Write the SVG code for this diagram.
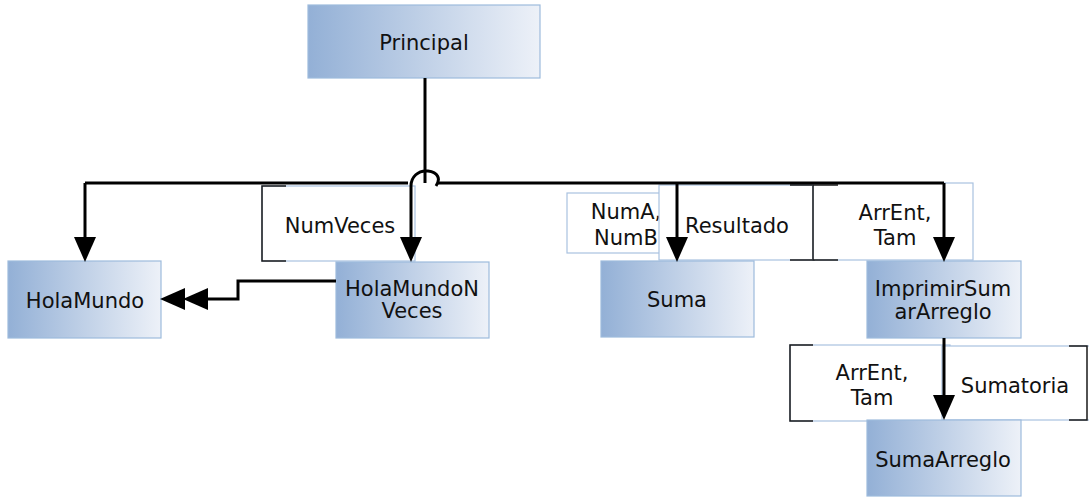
<svg xmlns="http://www.w3.org/2000/svg" width="1089" height="497" viewBox="0 0 1089 497">
<defs>
<linearGradient id="g" x1="0" y1="0" x2="1" y2="0">
<stop offset="0" stop-color="#93b0d6"/>
<stop offset="1" stop-color="#edf1f8"/>
</linearGradient>
<marker id="arr" viewBox="0 0 25 22" refX="20" refY="11" markerWidth="25" markerHeight="22" markerUnits="userSpaceOnUse" orient="auto">
<path d="M0,0 L25,11 L0,22 z" fill="#000"/>
</marker>
<style>
.node rect{fill:url(#g);stroke:#9dbbdc;stroke-width:1.2}
.lbl rect{fill:#fff;stroke:#a9c2e0;stroke-width:1.2}
.lbl path{fill:none;stroke:#1a1a1a;stroke-width:1.5}
text{font-family:"DejaVu Sans",Verdana,sans-serif;font-size:21px;fill:#111;text-anchor:middle}
.conn path{fill:none;stroke:#000;stroke-width:3}
</style>
</defs>
<rect width="1089" height="497" fill="#fff"/>

<g id="labels">
<g id="lbl-numveces" class="lbl">
<rect x="262" y="186" width="153" height="75"/>
<path d="M286,186 H262 V261 H286"/>
<text x="340" y="233">NumVeces</text>
</g>
<g id="lbl-numab" class="lbl">
<rect x="567" y="193" width="123" height="60"/>
<path d="M684,193 H690 V253 H684"/>
<text x="626" y="219">NumA,</text>
<text x="626" y="245">NumB</text>
</g>
<g id="lbl-resultado" class="lbl">
<rect x="659" y="185" width="155" height="75"/>
<path d="M790,185 H814 V260 H790"/>
<text x="737" y="233">Resultado</text>
</g>
<g id="lbl-arrent1" class="lbl">
<rect x="813" y="183" width="160" height="77"/>
<path d="M838,185 H813 V260 H838"/>
<text x="895" y="220">ArrEnt,</text>
<text x="895" y="245">Tam</text>
</g>
<g id="lbl-arrent2" class="lbl">
<rect x="790" y="345" width="160" height="76"/>
<path d="M813,345 H790 V421 H813"/>
<text x="872" y="380">ArrEnt,</text>
<text x="872" y="405">Tam</text>
</g>
<g id="lbl-sumatoria" class="lbl">
<rect x="942" y="346" width="150" height="74"/>
<path d="M1069,346 H1087 V420 H1069"/>
<text x="1015" y="393">Sumatoria</text>
</g>
</g>

<g id="n-principal" class="node">
<rect x="308" y="5" width="232" height="73"/>
<text x="424" y="50">Principal</text>
</g>
<g id="n-holamundo" class="node">
<rect x="8" y="261" width="153" height="77"/>
<text x="85" y="308">HolaMundo</text>
</g>
<g id="n-holamundonveces" class="node">
<rect x="336" y="262" width="153" height="76"/>
<text x="412" y="296">HolaMundoN</text>
<text x="412" y="318">Veces</text>
</g>
<g id="n-suma" class="node">
<rect x="601" y="261" width="153" height="76"/>
<text x="677" y="307">Suma</text>
</g>
<g id="n-imprimir" class="node">
<rect x="867" y="261" width="154" height="77"/>
<text x="943" y="296">ImprimirSum</text>
<text x="943" y="319">arArreglo</text>
</g>
<g id="n-sumaarreglo" class="node">
<rect x="867" y="420" width="154" height="76"/>
<text x="943" y="467">SumaArreglo</text>
</g>

<g id="connectors" class="conn">
<path d="M425,78 V183"/>
<path d="M85,183 H408 M437,183 H944"/>
<path d="M85,183 V257" marker-end="url(#arr)"/>
<path d="M436,186 C441,179 438,172 428,171 C418,170 411,177 411,186 V257" marker-end="url(#arr)"/>
<path d="M677,183 V257" marker-end="url(#arr)"/>
<path d="M944,183 V257" marker-end="url(#arr)"/>
<path d="M944,338 V415" marker-end="url(#arr)"/>
<path d="M336,281 H238 V299 H188" marker-end="url(#arr)"/>
<path d="M185,299 H165" marker-end="url(#arr)"/>
</g>
</svg>
